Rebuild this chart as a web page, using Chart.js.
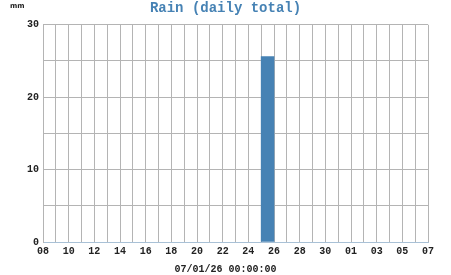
<!DOCTYPE html>
<html>
<head>
<meta charset="utf-8">
<script src="https://cdn.jsdelivr.net/npm/chart.js@4"></script>
<style>
  html, body { margin: 0; padding: 0; background: #fff; }
  #wrap { width: 451px; height: 275px; }
</style>
</head>
<body>
<div id="wrap"><canvas id="rainChart" width="451" height="275"></canvas></div>
<script>
// day boundaries 08 Dec -> 07 Jan
const dayLabels = ['08','09','10','11','12','13','14','15','16','17','18','19','20','21','22','23',
  '24','25','26','27','28','29','30','31','01','02','03','04','05','06','07'];
// daily rain totals (mm), one per day between boundaries
const rainTotals = [0,0,0,0,0,0,0,0,0,0,0,0,0,0,0,0,0,25.6,0,0,0,0,0,0,0,0,0,0,0,0];
const yTicks = [0, 10, 20, 30];
const chartTitle = 'Rain (daily total)';
const xTitle = '07/01/26 00:00:00';
const yUnit = 'mm';

const mono = '"Liberation Mono", "DejaVu Sans Mono", monospace';
const points = rainTotals.map((v, i) => ({ x: i + 0.5, y: v })).filter(p => p.y > 0);

// small unit label in top-left corner
const unitLabel = {
  id: 'unitLabel',
  afterDraw(chart) {
    const c = chart.ctx;
    c.save();
    c.font = 'bold 7px "DejaVu Sans", sans-serif';
    c.fillStyle = '#222';
    c.textBaseline = 'middle';
    c.fillText(yUnit, 10, 6);
    c.restore();
  }
};

new Chart(document.getElementById('rainChart'), {
  type: 'bar',
  data: {
    datasets: [{
      data: points,
      backgroundColor: '#4682b4',
      borderWidth: 0,
      barPercentage: 1,
      categoryPercentage: 1
    }]
  },
  options: {
    responsive: false,
    animation: false,
    layout: { padding: 0 },
    plugins: {
      legend: { display: false },
      tooltip: { enabled: false },
      title: {
        display: true,
        text: chartTitle,
        color: '#4682b4',
        font: { family: mono, size: 14, weight: 'bold' },
        padding: { top: 0, bottom: 8 }
      },
      subtitle: {
        display: true,
        position: 'bottom',
        text: xTitle,
        color: '#222',
        font: { family: mono, size: 10, weight: 'bold' },
        padding: { top: 3, bottom: 0 }
      }
    },
    scales: {
      x: {
        type: 'linear',
        offset: false,
        min: 0,
        max: dayLabels.length - 1,
        grid: { color: '#b4b4b4', drawTicks: false, offset: false },
        border: { color: '#a9c1d6' },
        ticks: {
          stepSize: 1,
          autoSkip: false,
          maxRotation: 0,
          padding: 3,
          color: '#222',
          font: { family: mono, size: 10, weight: 'bold' },
          callback: (v) => (v % 2 === 0 ? dayLabels[v] : '')
        }
      },
      y: {
        min: 0,
        max: 30,
        afterFit: (s) => { s.width = 43; },
        grid: { color: '#b4b4b4', drawTicks: false },
        border: { color: '#b4b4b4' },
        ticks: {
          stepSize: 5,
          padding: 4,
          color: '#222',
          font: { family: mono, size: 10, weight: 'bold' },
          callback: (v) => (yTicks.includes(v) ? v : '')
        }
      },
      // empty right margin
      yRight: {
        position: 'right',
        min: 0,
        max: 30,
        afterFit: (s) => { s.width = 23; },
        grid: { display: false },
        border: { display: false },
        ticks: { display: false }
      }
    }
  },
  plugins: [unitLabel]
});
</script>
</body>
</html>
